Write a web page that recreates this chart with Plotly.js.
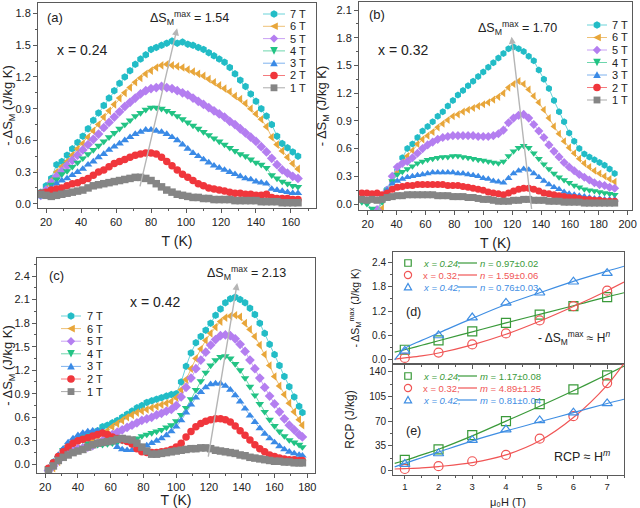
<!DOCTYPE html>
<html><head><meta charset="utf-8">
<script src="https://cdn.plot.ly/plotly-3.0.1.min.js"></script>
<style>html,body{margin:0;padding:0;background:#fff}#plot{width:640px;height:508px}</style>
</head><body><div id="plot"></div>
<script>
// ---------------- data ----------------
const fieldLabels = ['7 T','6 T','5 T','4 T','3 T','2 T','1 T'];

const T_a = [17,20,23,26,29,32,35,38,41,44,47,50,53,56,59,62,65,68,71,74,77,80,83,86,89,92,95,98,101,104,107,110,113,116,119,122,125,128,131,134,137,140,143,146,149,152,155,158,161,164];
const a_7T = [0.11,0.17,0.24,0.37,0.40,0.46,0.52,0.58,0.64,0.71,0.79,0.86,0.93,1.00,1.07,1.14,1.20,1.26,1.32,1.37,1.41,1.46,1.48,1.50,1.52,1.54,1.52,1.53,1.51,1.50,1.48,1.46,1.43,1.40,1.37,1.34,1.29,1.23,1.17,1.11,1.04,0.97,0.90,0.83,0.75,0.64,0.57,0.53,0.49,0.45];
const a_6T = [0.09,0.14,0.22,0.30,0.35,0.40,0.46,0.52,0.57,0.63,0.69,0.75,0.82,0.88,0.94,1.00,1.05,1.10,1.15,1.19,1.23,1.26,1.29,1.31,1.32,1.31,1.30,1.29,1.27,1.25,1.23,1.21,1.18,1.15,1.12,1.09,1.06,1.02,0.99,0.95,0.90,0.85,0.80,0.73,0.63,0.56,0.50,0.44,0.38,0.33];
const a_5T = [0.08,0.13,0.20,0.26,0.31,0.36,0.41,0.46,0.51,0.56,0.61,0.66,0.72,0.77,0.82,0.87,0.92,0.96,1.00,1.04,1.07,1.09,1.10,1.11,1.10,1.09,1.07,1.05,1.03,1.00,0.97,0.94,0.91,0.88,0.85,0.82,0.78,0.75,0.71,0.67,0.63,0.59,0.54,0.49,0.43,0.37,0.32,0.29,0.26,0.24];
const a_4T = [0.08,0.12,0.18,0.23,0.28,0.31,0.35,0.39,0.43,0.47,0.51,0.55,0.59,0.63,0.67,0.71,0.75,0.79,0.83,0.86,0.89,0.91,0.91,0.90,0.88,0.86,0.83,0.80,0.77,0.74,0.71,0.68,0.65,0.62,0.59,0.56,0.53,0.50,0.47,0.45,0.42,0.39,0.37,0.34,0.27,0.24,0.21,0.19,0.17,0.16];
const a_3T = [0.07,0.11,0.15,0.19,0.22,0.24,0.27,0.30,0.33,0.37,0.40,0.44,0.47,0.51,0.54,0.57,0.60,0.63,0.66,0.68,0.70,0.70,0.69,0.68,0.66,0.63,0.60,0.56,0.52,0.48,0.45,0.42,0.39,0.36,0.34,0.32,0.30,0.28,0.26,0.24,0.23,0.21,0.20,0.19,0.14,0.13,0.12,0.11,0.10,0.10];
const a_2T = [0.10,0.11,0.13,0.14,0.15,0.17,0.19,0.20,0.22,0.24,0.27,0.30,0.32,0.35,0.38,0.40,0.42,0.44,0.46,0.47,0.48,0.48,0.47,0.44,0.40,0.36,0.32,0.28,0.25,0.22,0.19,0.17,0.15,0.14,0.13,0.12,0.11,0.10,0.10,0.09,0.09,0.08,0.08,0.09,0.06,0.05,0.05,0.05,0.04,0.04];
const a_1T = [0.09,0.08,0.07,0.08,0.09,0.10,0.11,0.12,0.13,0.15,0.17,0.18,0.19,0.20,0.21,0.22,0.23,0.24,0.25,0.25,0.24,0.22,0.19,0.16,0.13,0.11,0.09,0.08,0.07,0.06,0.06,0.05,0.05,0.04,0.04,0.04,0.04,0.03,0.03,0.03,0.03,0.03,0.02,0.02,0.02,0.02,0.01,0.01,0.01,0.01];

const T_b = [16,19.5,23,26.5,30,33.5,37,40.5,44,47.5,51,54.5,58,61.5,65,68.5,72,75.5,79,82.5,86,89.5,93,96.5,100,103.5,107,110.5,114,117.5,121,124.5,128,131.5,135,138.5,142,145.5,149,152.5,156,159.5,163,166.5,170,173.5,177,180.5,184,187.5,191];
const b_7T = [-0.3,-0.25,-0.2,-0.08,0.06,0.16,0.24,0.36,0.50,0.60,0.65,0.72,0.79,0.84,0.89,0.95,1.00,1.06,1.12,1.18,1.23,1.28,1.33,1.38,1.43,1.48,1.53,1.58,1.63,1.68,1.70,1.68,1.65,1.60,1.55,1.45,1.35,1.25,1.12,1.00,0.89,0.77,0.68,0.60,0.54,0.51,0.48,0.45,0.42,0.38,0.33];
const b_6T = [-0.2,-0.2,-0.15,-0.12,-0.05,0.12,0.25,0.35,0.45,0.52,0.58,0.65,0.70,0.74,0.78,0.83,0.87,0.91,0.95,0.97,1.00,1.02,1.04,1.06,1.08,1.10,1.13,1.16,1.20,1.26,1.30,1.33,1.30,1.24,1.17,1.10,1.02,0.93,0.84,0.76,0.68,0.61,0.55,0.49,0.44,0.40,0.36,0.33,0.30,0.27,0.24];
const b_5T = [-0.15,-0.12,-0.10,-0.06,0.05,0.15,0.30,0.40,0.44,0.46,0.50,0.55,0.60,0.64,0.67,0.70,0.72,0.73,0.74,0.74,0.74,0.74,0.74,0.73,0.73,0.73,0.74,0.76,0.80,0.88,0.93,0.96,0.97,0.93,0.86,0.79,0.72,0.64,0.57,0.51,0.45,0.40,0.36,0.32,0.29,0.26,0.23,0.21,0.20,0.18,0.17];
const b_4T = [0.02,0.00,-0.05,-0.09,0.02,0.15,0.25,0.32,0.35,0.38,0.41,0.44,0.46,0.48,0.49,0.50,0.51,0.51,0.52,0.52,0.51,0.50,0.49,0.48,0.47,0.46,0.45,0.44,0.46,0.52,0.57,0.61,0.63,0.61,0.55,0.49,0.43,0.38,0.33,0.29,0.26,0.23,0.20,0.18,0.16,0.15,0.14,0.13,0.12,0.11,0.10];
const b_3T = [0.06,0.05,0.06,0.05,0.08,0.15,0.22,0.25,0.27,0.29,0.30,0.31,0.32,0.33,0.34,0.34,0.34,0.34,0.34,0.33,0.33,0.32,0.31,0.30,0.28,0.27,0.25,0.24,0.23,0.28,0.33,0.36,0.38,0.37,0.33,0.29,0.25,0.21,0.18,0.16,0.13,0.11,0.10,0.09,0.08,0.07,0.06,0.06,0.05,0.05,0.05];
const b_2T = [0.12,0.12,0.11,0.12,0.10,0.12,0.16,0.18,0.19,0.20,0.20,0.21,0.21,0.21,0.21,0.21,0.21,0.20,0.20,0.20,0.19,0.18,0.17,0.16,0.15,0.13,0.12,0.11,0.10,0.12,0.14,0.16,0.17,0.17,0.16,0.14,0.12,0.11,0.10,0.09,0.08,0.07,0.07,0.06,0.05,0.05,0.04,0.04,0.03,0.03,0.03];
const b_1T = [0.05,0.04,0.05,0.04,0.05,0.07,0.08,0.09,0.09,0.10,0.10,0.10,0.10,0.10,0.10,0.09,0.09,0.09,0.08,0.08,0.08,0.07,0.07,0.06,0.05,0.05,0.04,0.03,0.03,0.03,0.04,0.04,0.05,0.05,0.04,0.04,0.04,0.03,0.03,0.03,0.02,0.02,0.02,0.02,0.01,0.01,0.01,0.01,0.01,0.01,0.01];

const T_c = [22,25,28,31,34,37,40,43,46,49,52,55,58,61,64,67,70,73,76,79,82,85,88,91,94,97,100,103,106,109,112,115,118,121,124,127,130,133,136,139,142,145,148,151,154,157,160,163,166,169,172,175,177];
const c_7T = [-0.05,0.03,0.10,0.18,0.22,0.28,0.32,0.36,0.38,0.40,0.43,0.48,0.50,0.53,0.56,0.60,0.64,0.68,0.72,0.75,0.79,0.81,0.83,0.85,0.87,0.89,0.90,1.05,1.25,1.42,1.55,1.63,1.71,1.80,1.90,1.98,2.06,2.11,2.13,2.10,2.06,1.99,1.91,1.80,1.67,1.53,1.40,1.26,1.12,0.99,0.86,0.74,0.66];
const c_6T = [-0.10,-0.05,0.03,0.12,0.16,0.18,0.20,0.21,0.25,0.30,0.35,0.39,0.43,0.48,0.52,0.56,0.60,0.63,0.66,0.68,0.70,0.72,0.74,0.76,0.78,0.80,0.85,0.95,1.08,1.22,1.35,1.47,1.58,1.67,1.75,1.82,1.87,1.89,1.90,1.88,1.80,1.72,1.63,1.52,1.40,1.26,1.12,1.00,0.89,0.78,0.67,0.57,0.50];
const c_5T = [-0.08,-0.02,0.05,0.12,0.17,0.19,0.20,0.21,0.22,0.24,0.27,0.30,0.34,0.38,0.41,0.44,0.47,0.50,0.53,0.56,0.58,0.60,0.63,0.65,0.68,0.70,0.75,0.86,0.98,1.10,1.22,1.33,1.43,1.52,1.59,1.64,1.65,1.64,1.60,1.53,1.44,1.33,1.22,1.10,0.98,0.87,0.77,0.67,0.58,0.50,0.44,0.38,0.35];
const c_4T = [-0.05,0.00,0.08,0.18,0.22,0.27,0.30,0.31,0.27,0.25,0.25,0.25,0.26,0.27,0.28,0.30,0.31,0.30,0.33,0.36,0.38,0.40,0.42,0.44,0.47,0.50,0.55,0.63,0.72,0.83,0.95,1.06,1.17,1.26,1.33,1.37,1.38,1.35,1.28,1.20,1.10,0.99,0.88,0.77,0.67,0.57,0.49,0.42,0.36,0.31,0.28,0.25,0.22];
const c_3T = [-0.05,0.03,0.12,0.20,0.28,0.33,0.37,0.40,0.42,0.43,0.43,0.42,0.38,0.30,0.22,0.19,0.18,0.18,0.20,0.22,0.24,0.27,0.30,0.33,0.37,0.42,0.48,0.56,0.66,0.76,0.85,0.92,0.98,1.02,1.03,1.03,1.00,0.95,0.88,0.80,0.71,0.62,0.54,0.46,0.39,0.33,0.28,0.23,0.19,0.16,0.14,0.12,0.11];
const c_2T = [-0.05,0.02,0.10,0.16,0.22,0.27,0.30,0.32,0.34,0.36,0.38,0.40,0.38,0.35,0.33,0.31,0.29,0.26,0.20,0.16,0.15,0.15,0.15,0.16,0.17,0.19,0.22,0.27,0.35,0.42,0.48,0.52,0.55,0.57,0.58,0.58,0.57,0.54,0.49,0.43,0.37,0.31,0.25,0.20,0.16,0.12,0.10,0.08,0.07,0.06,0.06,0.05,0.05];
const c_1T = [-0.08,-0.02,0.05,0.09,0.12,0.15,0.17,0.19,0.22,0.25,0.27,0.28,0.29,0.30,0.32,0.33,0.32,0.31,0.27,0.22,0.17,0.13,0.13,0.14,0.15,0.16,0.17,0.18,0.19,0.20,0.20,0.21,0.21,0.20,0.18,0.17,0.16,0.15,0.14,0.12,0.11,0.09,0.08,0.07,0.06,0.05,0.04,0.04,0.03,0.03,0.02,0.02,0.02];

const H = [1,2,3,4,5,6,7];
const dSmax_024 = [0.25,0.48,0.70,0.91,1.11,1.32,1.54];
const dSmax_032 = [0.05,0.18,0.38,0.65,0.97,1.32,1.70];
const dSmax_042 = [0.22,0.60,1.04,1.40,1.65,1.92,2.13];
const fitH = [0.7,1,1.5,2,3,4,5,6,7,7.5];
const fit_dS_024 = [0.19,0.25,0.36,0.47,0.69,0.91,1.12,1.33,1.55,1.65];
const fit_dS_032 = [0.02,0.05,0.10,0.17,0.37,0.63,0.95,1.31,1.70,1.91];
const fit_dS_042 = [0.00,0.28,0.48,0.66,1.02,1.36,1.65,1.93,2.18,2.30];
const rcp_024 = [15,30,50,70,94,115,135];
const rcp_032 = [2,6,13,22,45,77,124];
const rcp_042 = [9,24,43,58,71,82,95];
const fit_rcp_024 = [10,14,22,30,49,70,91,113,136,148];
const fit_rcp_032 = [2,2.5,3.5,5.5,11,22,42,75,121,152];
const fit_rcp_042 = [5,10,18,26,42,56,69,82,95,101];

const compLabels = ['0.24','0.32','0.42'];
const nLabels = ['0.97±0.02','1.59±0.06','0.76±0.03'];
const mLabels = ['1.17±0.08','4.89±1.25','0.81±0.04'];

// ---------------- styling ----------------
const FONT = 'Liberation Sans, Arial, sans-serif';
const mColors = ['#22bcc6','#e8a63a','#b47ef0','#22c384','#3a8ae6','#f0363c','#858585'];
const lColors = ['#6ad3d9','#eec177','#c9a2f4','#6dd6ad','#7fb2ee','#f47b7e','#ababab'];
const symbols = ['hexagon','triangle-left','diamond','triangle-down','triangle-up','circle','square'];
const compColors = ['#3a9a3a','#f05555','#3f8ee3'];
const compSymbols = ['square-open','circle-open','triangle-up-open'];

const traces = [];
function addFieldSet(T, sets, xa, ya, msize){
  sets.forEach((ys,i)=>{
    traces.push({x:T, y:ys, xaxis:xa, yaxis:ya, type:'scatter', mode:'lines+markers',
      showlegend:false, cliponaxis:true,
      line:{color:lColors[i], width:1},
      marker:{symbol:symbols[i], color:mColors[i], size:msize, line:{width:0}}});
  });
}
addFieldSet(T_a,[a_7T,a_6T,a_5T,a_4T,a_3T,a_2T,a_1T],'x','y',7.5);
addFieldSet(T_b,[b_7T,b_6T,b_5T,b_4T,b_3T,b_2T,b_1T],'x2','y2',7);
addFieldSet(T_c,[c_7T,c_6T,c_5T,c_4T,c_3T,c_2T,c_1T],'x3','y3',7.5);

[[fit_dS_024,dSmax_024],[fit_dS_032,dSmax_032],[fit_dS_042,dSmax_042]].forEach((p,i)=>{
  traces.push({x:fitH,y:p[0],xaxis:'x4',yaxis:'y4',mode:'lines',line:{color:compColors[i],width:1.2,shape:'spline'},showlegend:false});
  traces.push({x:H,y:p[1],xaxis:'x4',yaxis:'y4',mode:'markers',marker:{symbol:compSymbols[i],size:9,color:compColors[i],line:{width:1.2}},showlegend:false});
});
[[fit_rcp_024,rcp_024],[fit_rcp_032,rcp_032],[fit_rcp_042,rcp_042]].forEach((p,i)=>{
  traces.push({x:fitH,y:p[0],xaxis:'x5',yaxis:'y5',mode:'lines',line:{color:compColors[i],width:1.2,shape:'spline'},showlegend:false});
  traces.push({x:H,y:p[1],xaxis:'x5',yaxis:'y5',mode:'markers',marker:{symbol:compSymbols[i],size:9,color:compColors[i],line:{width:1.2}},showlegend:false});
});

// pixel -> paper helpers (margins are zero)
const W=640, Hh=508;
const px = v => v/W, py = v => 1 - v/Hh;

function axis(o){
  return Object.assign({showline:true, mirror:true, linecolor:'#5a5a5a', linewidth:1,
    ticks:'outside', ticklen:4, tickwidth:1, tickcolor:'#5a5a5a', zeroline:false, showgrid:false,
    tickfont:{family:FONT,size:11,color:'#222'}, automargin:false}, o);
}
const yTitleFont = {family:FONT,size:13,color:'#222'};
const xTitleFont = {family:FONT,size:14,color:'#222'};

const layout = {
  width:640, height:508, margin:{l:0,r:0,t:0,b:0}, paper_bgcolor:'#fff', plot_bgcolor:'#fff',
  font:{family:FONT,color:'#222'}, showlegend:false,
  xaxis: axis({domain:[px(38),px(316)], range:[15.4,174.3], dtick:20, tick0:0, anchor:'y',
    minor:{ticks:'outside',ticklen:2,dtick:10,tickcolor:'#5a5a5a'},
    title:{text:'T (K)',font:xTitleFont,standoff:8}}),
  yaxis: axis({domain:[py(208),py(3)], range:[-0.04,1.9], dtick:0.3, tick0:0, tickformat:'.1f', anchor:'x',
    minor:{ticks:'outside',ticklen:2,dtick:0.15,tickcolor:'#5a5a5a'},
    title:{text:'- ΔS<sub>M</sub> (J/kg K)',font:yTitleFont,standoff:6}}),
  xaxis2: axis({domain:[px(359),px(632)], range:[14,203], dtick:20, tick0:0, anchor:'y2',
    minor:{ticks:'outside',ticklen:2,dtick:10,tickcolor:'#5a5a5a'},
    title:{text:'T (K)',font:xTitleFont,standoff:8}}),
  yaxis2: axis({domain:[py(210),py(2)], range:[-0.065,2.187], dtick:0.3, tick0:0, tickformat:'.1f', anchor:'x2',
    minor:{ticks:'outside',ticklen:2,dtick:0.15,tickcolor:'#5a5a5a'},
    title:{text:'- ΔS<sub>M</sub> (J/kg K)',font:yTitleFont,standoff:6}}),
  xaxis3: axis({domain:[px(37),px(315)], range:[15,184.7], dtick:20, tick0:0, anchor:'y3',
    minor:{ticks:'outside',ticklen:2,dtick:10,tickcolor:'#5a5a5a'},
    title:{text:'T (K)',font:xTitleFont,standoff:4}}),
  yaxis3: axis({domain:[py(473),py(258)], range:[-0.11,2.63], dtick:0.3, tick0:0, tickformat:'.1f', anchor:'x3',
    minor:{ticks:'outside',ticklen:2,dtick:0.15,tickcolor:'#5a5a5a'},
    title:{text:'- ΔS<sub>M</sub> (J/kg K)',font:yTitleFont,standoff:6}}),
  xaxis4: axis({domain:[px(393),px(624)], range:[0.65,7.5], dtick:1, anchor:'y4', showticklabels:false,
    minor:{ticks:'outside',ticklen:2,dtick:0.5,tickcolor:'#5a5a5a'}}),
  yaxis4: axis({domain:[py(364),py(252)], range:[-0.1,2.65], dtick:0.6, tick0:0, tickformat:'.1f', anchor:'x4',
    tickfont:{family:FONT,size:10,color:'#222'},
    minor:{ticks:'outside',ticklen:2,dtick:0.3,tickcolor:'#5a5a5a'},
    title:{text:'- ΔS<sub>M</sub><sup>max</sup> (J/kg K)',font:{family:FONT,size:10.5,color:'#222'},standoff:10}}),
  xaxis5: axis({domain:[px(393),px(624)], range:[0.65,7.5], dtick:1, anchor:'y5', ticklen:3,
    tickfont:{family:FONT,size:9.5,color:'#222'},
    minor:{ticks:'outside',ticklen:2,dtick:0.5,tickcolor:'#5a5a5a'}}),
  yaxis5: axis({domain:[py(475),py(364)], range:[-6.5,151], dtick:35, tick0:0, anchor:'x5',
    tickfont:{family:FONT,size:10,color:'#222'},
    minor:{ticks:'outside',ticklen:2,dtick:17.5,tickcolor:'#5a5a5a'},
    title:{text:'RCP (J/kg)',font:{family:FONT,size:12,color:'#222'},standoff:12}}),
  annotations:[], shapes:[]
};

const A = layout.annotations, S = layout.shapes;
function txt(x,y,text,size,color,anchor){
  A.push({xref:'paper',yref:'paper',x:px(x),y:py(y),text:text,showarrow:false,
    xanchor:anchor||'left',yanchor:'middle',font:{family:FONT,size:size,color:color||'#222'}});
}
function arrow(xr,yr,x0,y0,x1,y1){
  A.push({xref:xr,yref:yr,axref:xr,ayref:yr,x:x1,y:y1,ax:x0,ay:y0,text:'',showarrow:true,
    arrowhead:2,arrowsize:1,arrowwidth:1.4,arrowcolor:'#b5b5b5'});
}
function symbolShape(sym,cx,cy,r,color,open){
  const base={xref:'paper',yref:'paper',xsizemode:'pixel',ysizemode:'pixel',xanchor:px(cx),yanchor:py(cy),
    fillcolor: open?'rgba(0,0,0,0)':color, line:{color:color,width: open?1.2:0}};
  let pts=null;
  if(sym==='circle'){S.push(Object.assign({type:'circle',x0:-r,x1:r,y0:-r,y1:r},base));return;}
  if(sym==='square'){S.push(Object.assign({type:'rect',x0:-r*0.9,x1:r*0.9,y0:-r*0.9,y1:r*0.9},base));return;}
  if(sym==='hexagon'){pts=[];for(let k=0;k<6;k++){const a=Math.PI/2+k*Math.PI/3;pts.push([r*Math.cos(a),r*Math.sin(a)]);}}
  if(sym==='triangle-left') pts=[[-r,0],[r,r],[r,-r]];
  if(sym==='diamond') pts=[[0,r*1.1],[r*1.1,0],[0,-r*1.1],[-r*1.1,0]];
  if(sym==='triangle-down') pts=[[-r,r],[r,r],[0,-r]];
  if(sym==='triangle-up') pts=[[-r,-r*0.8],[r,-r*0.8],[0,r]];
  const path='M'+pts.map(p=>p[0].toFixed(2)+','+p[1].toFixed(2)).join('L')+'Z';
  S.push(Object.assign({type:'path',path:path},base));
}
function hline(x0,x1,y,color,w){
  S.push({type:'line',xref:'paper',yref:'paper',x0:px(x0),x1:px(x1),y0:py(y),y1:py(y),line:{color:color,width:w||1}});
}
function fieldLegend(lx0,lx1,tx,y0,dy){
  fieldLabels.forEach((lab,i)=>{
    const y=y0+dy*i;
    hline(lx0,lx1,y,lColors[i],1);
    symbolShape(symbols[i],(lx0+lx1)/2,y,3.8,mColors[i],false);
    txt(tx,y,lab,11,'#222');
  });
}

// panel (a)
txt(45,17,'(a)',13); txt(55,50,'x = 0.24',14);
txt(148,18,'ΔS<sub>M</sub><sup>max</sup> = 1.54',12.5);
arrow('x','y',73.5,0.15,94.9,1.66);
fieldLegend(263,285,288,14,12.3);
// panel (b)
txt(367,15,'(b)',13); txt(376,50,'x = 0.32',14);
txt(476,28,'ΔS<sub>M</sub><sup>max</sup> = 1.70',12.5);
arrow('x2','y2',133.6,-0.07,119.6,1.81);
fieldLegend(587,607,610,25,12.5);
// panel (c)
txt(47,275,'(c)',13); txt(128,302,'x = 0.42',14);
txt(205,273,'ΔS<sub>M</sub><sup>max</sup> = 2.13',12.5);
arrow('x3','y3',119.4,0.08,137.2,2.31);
fieldLegend(61,81,85,316,12.6);

// panels (d) and (e) legends
function compLegend(rows, var_, labels){
  rows.forEach((y,i)=>{
    const sym = ['square','circle','triangle-up'][i];
    symbolShape(sym,408,y,3.6,compColors[i],true);
    const xt = (i===1) ? 'x = '+compLabels[i]+',' : '<i>x = '+compLabels[i]+',</i>';
    txt(421,y,xt,9.5,compColors[i]);
    hline(458,477,y,compColors[i],1.2);
    txt(478,y,'<i>'+var_+'</i> = '+labels[i],9.5,compColors[i]);
  });
}
compLegend([263,275,287],'n',nLabels);
compLegend([376,388,400],'m',mLabels);
txt(404,312,'(d)',12.5);
txt(612,338,'- ΔS<sub>M</sub><sup>max</sup> ≈ H<sup><i>n</i></sup>',12,'#222','right');
txt(404,431,'(e)',12.5);
txt(612,456,'RCP ≈ H<sup><i>m</i></sup>',12.5,'#222','right');
// x-axis title of the bottom-right panel (kept inside the page)
A.push({xref:'paper',yref:'paper',x:px(508),y:0,xanchor:'center',yanchor:'bottom',showarrow:false,
  borderpad:0, yshift:-1, text:'μ₀H (T)',font:{family:FONT,size:11,color:'#222'}});

Plotly.newPlot('plot', traces, layout, {staticPlot:true});
</script>
</body></html>
